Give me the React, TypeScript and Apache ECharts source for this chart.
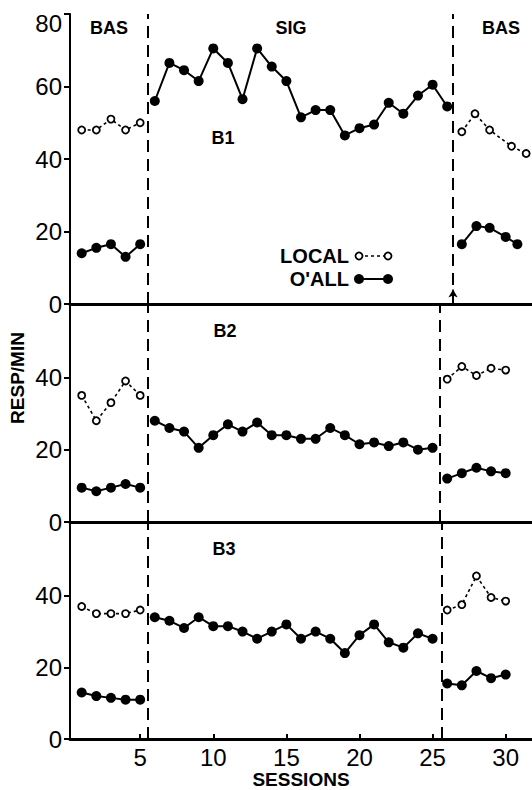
import React, { useEffect, useRef } from "react";
import * as echarts from "echarts";

// ---- data ----
const xTickLabels = [5, 10, 15, 20, 25, 30];
const yTicksTop = [0, 20, 40, 60, 80];
const yTicksLower = [0, 20, 40];

const bas1Sessions = [1, 2, 3, 4, 5];
const sigSessionsB1 = [6, 7, 8, 9, 10, 11, 12, 13, 14, 15, 16, 17, 18, 19, 20, 21, 22, 23, 24, 25, 26];
const sigSessions = [6, 7, 8, 9, 10, 11, 12, 13, 14, 15, 16, 17, 18, 19, 20, 21, 22, 23, 24, 25];
const bas2Sessions = [26, 27, 28, 29, 30];
const bas2LocalSessionsB1 = [27, 27.9, 28.9, 30.4, 31.4];
const bas2OallSessionsB1 = [27, 28, 28.9, 30, 30.8];

// B1
const b1LocalBas1 = [48, 48, 51, 48, 50];
const b1OallBas1 = [14, 15.5, 16.5, 13, 16.5];
const b1OallSig = [56, 66.5, 64.5, 61.5, 70.5, 66.5, 56.5, 70.5, 65.5, 61.5, 51.5, 53.5, 53.5, 46.5, 48.5, 49.5, 55.5, 52.5, 57.5, 60.5, 54.5];
const b1LocalBas2 = [47.5, 52.5, 48, 43.5, 41.5];
const b1OallBas2 = [16.5, 21.5, 21, 18.5, 16.5];

// B2
const b2LocalBas1 = [35, 28, 33, 39, 35];
const b2OallBas1 = [9.5, 8.5, 9.5, 10.5, 9.5];
const b2OallSig = [28, 26, 25, 20.5, 24, 27, 25, 27.5, 24, 24, 23, 23, 26, 24, 21.5, 22, 21, 22, 20, 20.5];
const b2LocalBas2 = [39.5, 43, 40.5, 42.5, 42];
const b2OallBas2 = [12, 13.5, 15, 14, 13.5];

// B3
const b3LocalBas1 = [37, 35, 35, 35, 36];
const b3OallBas1 = [13, 12, 11.5, 11, 11];
const b3OallSig = [34, 33, 31, 34, 31.5, 31.5, 30, 28, 30, 32, 28, 30, 28, 24, 29, 32, 27, 25.5, 29.5, 28];
const b3LocalBas2 = [36, 37.5, 45.5, 39.5, 38.5];
const b3OallBas2 = [15.5, 15, 19, 17, 18];

const phaseLinesB1 = [5.5, 26.4];
const phaseLinesB2 = [5.5, 25.5];
const phaseLinesB3 = [5.5, 25.6];

const FONT = "Liberation Sans, Arial, sans-serif";

function pairs(xs: number[], ys: number[]) {
  return xs.map((x, i) => [x, ys[i]]);
}

function oall(gi: number, xs: number[], ys: number[], extra: any = {}) {
  return {
    type: "line",
    xAxisIndex: gi,
    yAxisIndex: gi,
    data: pairs(xs, ys),
    symbol: "circle",
    symbolSize: 10,
    itemStyle: { color: "#000" },
    lineStyle: { color: "#000", width: 2 },
    z: 3,
    ...extra,
  };
}

function local(gi: number, xs: number[], ys: number[]) {
  return {
    type: "line",
    xAxisIndex: gi,
    yAxisIndex: gi,
    data: pairs(xs, ys),
    symbol: "circle",
    symbolSize: 7,
    itemStyle: { color: "#fff", borderColor: "#000", borderWidth: 1.8 },
    lineStyle: { color: "#000", width: 1.6, type: [3, 3] },
    z: 3,
  };
}

function phaseMarks(lines: number[]) {
  return {
    silent: true,
    symbol: ["none", "none"],
    label: { show: false },
    lineStyle: { color: "#000", width: 2, type: [12, 7] },
    data: lines.map((v) => ({ xAxis: v })),
  };
}

export default function App() {
  const ref = useRef<HTMLDivElement>(null);
  useEffect(() => {
    if (!ref.current) return;
    const chart = echarts.init(ref.current, undefined, { renderer: "svg" });
    const grids = [
      { left: 70, right: 0, top: 14, height: 290 },
      { left: 70, right: 0, top: 305, height: 217 },
      { left: 70, right: 0, top: 524, height: 218 },
    ];
    const xAxes = [0, 1, 2].map((i) => ({
      type: "value",
      gridIndex: i,
      min: 0.2,
      max: 31.8,
      axisLine: { show: true, onZero: false, lineStyle: { color: "#000", width: 3 } },
      axisTick:
        i === 2
          ? { show: true, inside: true, length: 5, customValues: xTickLabels, lineStyle: { color: "#000", width: 2 } }
          : { show: false },
      axisLabel:
        i === 2
          ? { show: true, customValues: xTickLabels, color: "#000", fontSize: 24, fontFamily: FONT, margin: 6 }
          : { show: false },
      splitLine: { show: false },
      name: i === 2 ? "SESSIONS" : "",
      nameLocation: "middle",
      nameGap: 27,
      nameTextStyle: { color: "#000", fontSize: 19, fontWeight: "bold", fontFamily: FONT },
    }));
    const yAxes = [0, 1, 2].map((i) => {
      const ticks = i === 0 ? yTicksTop : yTicksLower;
      return {
        type: "value",
        gridIndex: i,
        min: 0,
        max: i === 0 ? 80 : 60,
        axisLine: { show: true, lineStyle: { color: "#000", width: 2 } },
        axisTick: { show: true, length: 6, customValues: ticks, lineStyle: { color: "#000", width: 2 } },
        axisLabel: {
          show: true,
          customValues: ticks,
          color: "#000",
          fontSize: 24,
          fontFamily: FONT,
          margin: 8,
          formatter: (v: number) => (i === 0 && v === 80 ? "{top|80}" : String(v)),
          rich: { top: { fontSize: 24, fontFamily: FONT, color: "#000", padding: [18, 0, 0, 0] } },
        },
        splitLine: { show: false },
      };
    });

    const series: any[] = [
      // B1
      oall(0, bas1Sessions, b1OallBas1, { markLine: phaseMarks(phaseLinesB1) }),
      local(0, bas1Sessions, b1LocalBas1),
      oall(0, sigSessionsB1, b1OallSig, {
        markLine: {
          silent: true,
          symbol: ["none", "arrow"],
          symbolSize: [7, 8],
          label: { show: false },
          lineStyle: { color: "#000", width: 1.5, type: "solid" },
          data: [[{ coord: [phaseLinesB1[1], 0] }, { coord: [phaseLinesB1[1], 4] }]],
        },
      }),
      local(0, bas2LocalSessionsB1, b1LocalBas2),
      oall(0, bas2OallSessionsB1, b1OallBas2),
      // B2
      oall(1, bas1Sessions, b2OallBas1, { markLine: phaseMarks(phaseLinesB2) }),
      local(1, bas1Sessions, b2LocalBas1),
      oall(1, sigSessions, b2OallSig),
      local(1, bas2Sessions, b2LocalBas2),
      oall(1, bas2Sessions, b2OallBas2),
      // B3
      oall(2, bas1Sessions, b3OallBas1, { markLine: phaseMarks(phaseLinesB3) }),
      local(2, bas1Sessions, b3LocalBas1),
      oall(2, sigSessions, b3OallSig),
      local(2, bas2Sessions, b3LocalBas2),
      oall(2, bas2Sessions, b3OallBas2),
    ];

    const lbl = (text: string, x: number, y: number, size = 18, align = "center") => ({
      type: "text",
      x,
      y,
      style: {
        text,
        fill: "#000",
        font: `bold ${size}px ${FONT}`,
        align,
        verticalAlign: "middle",
      },
      z: 10,
    });

    const graphic: any[] = [
      lbl("BAS", 109, 28),
      lbl("SIG", 291, 28),
      lbl("BAS", 501, 28),
      lbl("B1", 223, 138),
      lbl("B2", 225, 331),
      lbl("B3", 224, 549),
      lbl("LOCAL", 349, 256, 20, "right"),
      lbl("O'ALL", 349, 279, 20, "right"),
      {
        type: "line",
        shape: { x1: 359, y1: 256, x2: 388, y2: 256 },
        style: { stroke: "#000", lineWidth: 1.6, lineDash: [3, 3] },
        z: 10,
      },
      { type: "circle", shape: { cx: 359, cy: 256, r: 3.5 }, style: { fill: "#fff", stroke: "#000", lineWidth: 1.8 }, z: 11 },
      { type: "circle", shape: { cx: 388, cy: 256, r: 3.5 }, style: { fill: "#fff", stroke: "#000", lineWidth: 1.8 }, z: 11 },
      {
        type: "line",
        shape: { x1: 359, y1: 279, x2: 388, y2: 279 },
        style: { stroke: "#000", lineWidth: 2 },
        z: 10,
      },
      { type: "circle", shape: { cx: 359, cy: 279, r: 5 }, style: { fill: "#000" }, z: 11 },
      { type: "circle", shape: { cx: 388, cy: 279, r: 5 }, style: { fill: "#000" }, z: 11 },
      {
        type: "text",
        x: 17,
        y: 378,
        rotation: Math.PI / 2,
        style: {
          text: "RESP/MIN",
          fill: "#000",
          font: `bold 19px ${FONT}`,
          align: "center",
          verticalAlign: "middle",
        },
        z: 10,
      },
    ];

    chart.setOption({
      animation: false,
      backgroundColor: "#fff",
      grid: grids,
      xAxis: xAxes,
      yAxis: yAxes,
      series,
      graphic,
    });
    return () => chart.dispose();
  }, []);
  return (
    <div
      ref={ref}
      style={{ position: "fixed", left: 0, top: 0, width: 532, height: 790, background: "#fff" }}
    />
  );
}
